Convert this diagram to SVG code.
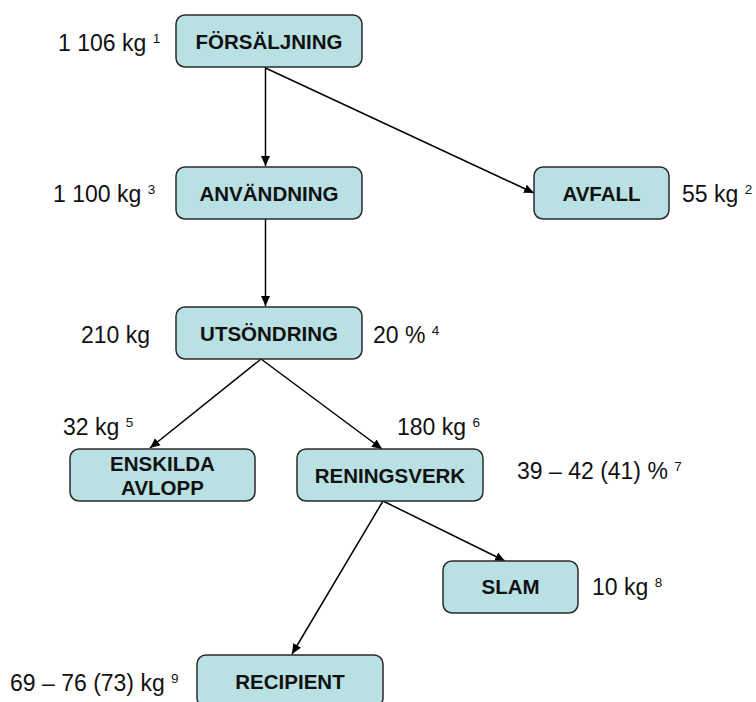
<svg xmlns="http://www.w3.org/2000/svg" width="756" height="702" viewBox="0 0 756 702">
  <style>
    .box { fill: #B9E0E3; stroke: #2a2a2a; stroke-width: 1.5; }
    .name { font-family: "Liberation Sans", Arial, sans-serif; font-weight: bold; font-size: 20.5px; fill: #111; text-anchor: middle; }
    .qty { font-family: "Liberation Sans", Arial, sans-serif; font-size: 23px; fill: #111; }
    .sup { font-size: 13.5px; }
    .edge { stroke: #000; stroke-width: 1.5; fill: none; marker-end: url(#arrow); }
  </style>
  <defs>
    <marker id="arrow" markerUnits="userSpaceOnUse" markerWidth="11" markerHeight="10" refX="10" refY="5" orient="auto">
      <path d="M0,0.5 L10,5 L0,9.5 z" fill="#000"/>
    </marker>
  </defs>

  <rect width="756" height="702" fill="#fff"/>

  <!-- flow connectors -->
  <g id="connectors">
    <line class="edge" x1="265.5" y1="67" x2="265.5" y2="166"/>
    <line class="edge" x1="265.5" y1="68" x2="534" y2="193"/>
    <line class="edge" x1="265.5" y1="219" x2="265.5" y2="306"/>
    <line class="edge" x1="261" y1="359" x2="150" y2="448"/>
    <line class="edge" x1="261" y1="359" x2="382" y2="449"/>
    <line class="edge" x1="383" y1="501" x2="505" y2="561"/>
    <line class="edge" x1="383" y1="501" x2="292" y2="654"/>
  </g>

  <g id="forsaljning">
    <rect class="box" x="176" y="15" width="186" height="52" rx="9"/>
    <text class="name" x="269" y="48.5">FÖRSÄLJNING</text>
    <text class="qty" x="58" y="51">1 106 kg <tspan class="sup" dy="-8">1</tspan></text>
  </g>

  <g id="anvandning">
    <rect class="box" x="176" y="167" width="186" height="52" rx="9"/>
    <text class="name" x="269" y="201">ANVÄNDNING</text>
    <text class="qty" x="53" y="202">1 100 kg <tspan class="sup" dy="-8">3</tspan></text>
  </g>

  <g id="avfall">
    <rect class="box" x="534" y="167" width="135" height="52" rx="9"/>
    <text class="name" x="601.5" y="201">AVFALL</text>
    <text class="qty" x="682" y="202">55 kg <tspan class="sup" dy="-8">2</tspan></text>
  </g>

  <g id="utsondring">
    <rect class="box" x="176" y="307" width="186" height="52" rx="9"/>
    <text class="name" x="269" y="341">UTSÖNDRING</text>
    <text class="qty" x="81" y="343">210 kg</text>
    <text class="qty" x="373" y="343">20 % <tspan class="sup" dy="-8">4</tspan></text>
  </g>

  <g id="enskilda-avlopp">
    <rect class="box" x="70" y="449" width="185" height="52" rx="9"/>
    <text class="name" x="162.5" y="471">ENSKILDA</text>
    <text class="name" x="162.5" y="495">AVLOPP</text>
    <text class="qty" x="63" y="435">32 kg <tspan class="sup" dy="-8">5</tspan></text>
  </g>

  <g id="reningsverk">
    <rect class="box" x="297" y="449" width="186" height="52" rx="9"/>
    <text class="name" x="390" y="483">RENINGSVERK</text>
    <text class="qty" x="397" y="435">180 kg <tspan class="sup" dy="-8">6</tspan></text>
    <text class="qty" x="517" y="479">39 – 42 (41) % <tspan class="sup" dy="-8">7</tspan></text>
  </g>

  <g id="slam">
    <rect class="box" x="443" y="561" width="135" height="52" rx="9"/>
    <text class="name" x="510.5" y="594">SLAM</text>
    <text class="qty" x="592" y="595">10 kg <tspan class="sup" dy="-8">8</tspan></text>
  </g>

  <g id="recipient">
    <rect class="box" x="197" y="655" width="186" height="52" rx="9"/>
    <text class="name" x="290" y="689">RECIPIENT</text>
    <text class="qty" x="10" y="691">69 – 76 (73) kg <tspan class="sup" dy="-8">9</tspan></text>
  </g>
</svg>
